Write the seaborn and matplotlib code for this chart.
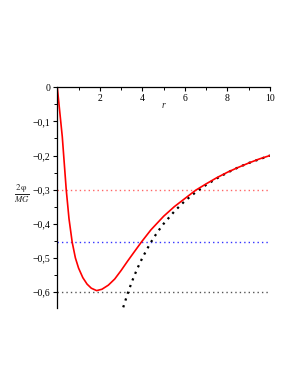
import matplotlib
matplotlib.use("Agg")
import matplotlib.pyplot as plt
import seaborn as sns
import pandas as pd
from matplotlib.ticker import MultipleLocator, FuncFormatter

# --- data ---
r_red = [0, 0.1, 0.235, 0.42, 0.55, 0.70, 0.85, 1.0, 1.2, 1.4, 1.6, 1.85, 2.1, 2.4, 2.7,
         3.0, 3.3, 3.6, 3.95, 4.4, 5.0, 5.5, 6.0, 6.5, 7.0, 7.5, 8.0, 8.5, 9.0, 9.5, 10]
phi_red = [0, -0.062, -0.145, -0.30, -0.385, -0.454, -0.500, -0.530, -0.558, -0.577, -0.589,
           -0.596, -0.592, -0.580, -0.562, -0.537, -0.510, -0.484, -0.454, -0.418, -0.378,
           -0.350, -0.326, -0.302, -0.283, -0.265, -0.249, -0.235, -0.222, -0.210, -0.200]
r_black = [3.1, 3.3, 3.5, 3.75, 4.0, 4.25, 4.5, 4.75, 5.0, 5.5, 6.0, 6.5, 7.0, 7.5, 8.0, 8.5, 9.0, 9.5, 10]
phi_black = [-0.645, -0.606, -0.571, -0.533, -0.500, -0.471, -0.444, -0.421, -0.400, -0.364,
             -0.333, -0.308, -0.286, -0.267, -0.250, -0.235, -0.222, -0.211, -0.200]
hlines_y = [-0.3, -0.454, -0.6]
hlines_colors = ["#ff6666", "#3333ff", "#555555"]
x_ticks = [2, 4, 6, 8, 10]
y_ticks = [0, -0.1, -0.2, -0.3, -0.4, -0.5, -0.6]

sns.set_style("white")
plt.rcParams["font.family"] = ["Liberation Serif", "DejaVu Serif"]
plt.rcParams["mathtext.fontset"] = "stix"

fig = plt.figure(figsize=(2.95, 3.82), dpi=100)
ax = fig.add_axes([0.1942, 0.1937, 0.7211, 0.5778])

# horizontal reference lines
for yv, c in zip(hlines_y, hlines_colors):
    df_h = pd.DataFrame({"r": [0, 10], "phi": [yv, yv]})
    sns.lineplot(data=df_h, x="r", y="phi", ax=ax, color=c, lw=1.0,
                 linestyle=(0, (1, 2.2)))

df_b = pd.DataFrame({"r": r_black, "phi": phi_black})
sns.lineplot(data=df_b, x="r", y="phi", ax=ax, color="black", lw=1.6,
             linestyle=(0, (1, 2.2)), sort=False)

df_r = pd.DataFrame({"r": r_red, "phi": phi_red})
sns.lineplot(data=df_r, x="r", y="phi", ax=ax, color="#ff0000", lw=1.2, sort=False)

ax.set_xlim(0, 10)
ax.set_ylim(-0.647, 0)

for s in ["top", "right"]:
    ax.spines[s].set_visible(False)
ax.spines["bottom"].set_position(("data", 0))
for s in ["bottom", "left"]:
    ax.spines[s].set_color("black")
    ax.spines[s].set_linewidth(0.9)

ax.set_xticks(x_ticks)
ax.set_yticks(y_ticks)
ax.xaxis.set_minor_locator(MultipleLocator(1))
ax.yaxis.set_minor_locator(MultipleLocator(0.05))

def yfmt(v, pos):
    if abs(v) < 1e-9:
        return "0"
    return ("\u2212%.1f" % abs(v)).replace(".", ",")

ax.yaxis.set_major_formatter(FuncFormatter(yfmt))
ax.tick_params(axis="both", which="major", direction="out", length=3, width=0.8,
               labelsize=7, colors="black", pad=2)
ax.tick_params(axis="both", which="minor", direction="out", length=2, width=0.7,
               colors="black")
ax.tick_params(axis="x", which="both", bottom=True)
ax.tick_params(axis="y", which="both", left=True)

ax.set_xlabel("")
ax.set_ylabel("")
fig.text(163 / 295, 1 - 106 / 382, "r", ha="center", va="center", fontsize=7,
         style="italic")
ylabel = "$\\frac{2\\,\\mathrm{\u03c6}}{MG}$"
fig.text(22 / 295, 1 - 194 / 382, ylabel, ha="center", va="center", fontsize=9)

fig.savefig("out.png", dpi=100)
